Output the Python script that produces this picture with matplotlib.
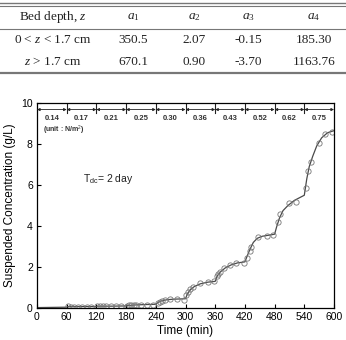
import matplotlib
matplotlib.use("Agg")
import matplotlib.pyplot as plt

plt.rcParams['mathtext.fontset'] = 'custom'
plt.rcParams['mathtext.rm'] = 'Liberation Serif'
plt.rcParams['mathtext.it'] = 'Liberation Serif:italic'
plt.rcParams['mathtext.sf'] = 'Liberation Sans'

# table values
col_heads = ["Bed depth, $z$", "$a_{\\mathrm{1}}$", "$a_{\\mathrm{2}}$", "$a_{\\mathrm{3}}$", "$a_{\\mathrm{4}}$"]
row1 = ["0 < $z$ < 1.7 cm", "350.5", "2.07", "-0.15", "185.30"]
row2 = ["$z$ > 1.7 cm", "670.1", "0.90", "-3.70", "1163.76"]

# measured points
t_obs = [62, 68, 75, 82, 90, 100, 110,
         122, 128, 133, 140, 150, 160, 170,
         182, 186, 190, 195, 200, 210, 222, 235,
         244, 248, 252, 258, 269, 282, 297,
         302, 305, 310, 316, 329, 346, 357,
         363, 366, 370, 378, 390, 403, 418,
         424, 430, 433, 447, 464, 477,
         487, 491, 509, 524, 543,
         548, 553, 570, 582, 596]
c_obs = [0.08, 0.07, 0.06, 0.06, 0.07, 0.07, 0.07,
         0.10, 0.10, 0.09, 0.08, 0.08, 0.08, 0.09,
         0.12, 0.13, 0.14, 0.15, 0.15, 0.17, 0.17, 0.17,
         0.25, 0.30, 0.36, 0.40, 0.42, 0.43, 0.40,
         0.65, 0.80, 0.95, 1.02, 1.20, 1.28, 1.30,
         1.55, 1.65, 1.77, 1.95, 2.10, 2.20, 2.20,
         2.45, 2.80, 2.96, 3.48, 3.53, 3.56,
         4.20, 4.60, 5.10, 5.15, 5.85,
         6.70, 7.10, 8.05, 8.50, 8.60]

# model curve
t_fit = [0, 30, 60, 62, 90, 120, 122, 150, 180, 183, 200, 220, 240,
         245, 252, 262, 275, 300, 304, 310, 318, 330, 345, 360,
         364, 370, 380, 392, 405, 420, 424, 430, 437, 445, 455, 468, 480,
         484, 490, 497, 507, 520, 532, 540, 545, 550, 557, 565, 575, 587, 600]
c_fit = [0.02, 0.03, 0.04, 0.07, 0.07, 0.07, 0.09, 0.09, 0.10, 0.12, 0.15, 0.17, 0.18,
         0.28, 0.35, 0.40, 0.43, 0.45, 0.70, 0.90, 1.05, 1.18, 1.26, 1.30,
         1.55, 1.75, 1.95, 2.10, 2.20, 2.25, 2.50, 2.85, 3.20, 3.40, 3.50, 3.55, 3.60,
         3.95, 4.40, 4.75, 5.00, 5.25, 5.40, 5.50, 6.30, 6.90, 7.40, 7.90, 8.30, 8.55, 8.65]

bounds = [0, 60, 120, 180, 240, 300, 360, 420, 480, 540, 600]
taus = ["0.14", "0.17", "0.21", "0.25", "0.30", "0.36", "0.43", "0.52", "0.62", "0.75"]

fig = plt.figure(figsize=(3.46, 3.40), dpi=100)

# --- table on top ---
tab = fig.add_axes([0, 1 - 78/340, 1, 78/340])
tab.set_xlim(0, 346)
tab.set_ylim(78, 0)
tab.axis("off")
lc = "#777777"
tab.plot([0, 346], [3, 3], color=lc, lw=1.0)
tab.plot([0, 346], [5.5, 5.5], color=lc, lw=0.8)
tab.plot([0, 346], [28.5, 28.5], color=lc, lw=0.8)
tab.plot([0, 346], [73, 73], color=lc, lw=1.6)
xs = [53, 133, 194, 248, 314]
tf = dict(family="Liberation Serif", fontsize=9.5, color="#222222", ha="center", va="center")
for x, s in zip(xs, col_heads):
    tab.text(x, 17, s, **tf)
for x, s in zip(xs, row1):
    tab.text(x, 40, s, **tf)
for x, s in zip(xs, row2):
    tab.text(x, 62, s, **tf)

# --- chart ---
ax = fig.add_axes([37/346, 1 - 308/340, 297/346, 205/340])
ax.plot(t_fit, c_fit, color="#4a4a4a", lw=0.9)
ax.plot(t_obs, c_obs, "o", mfc="none", mec="#777777", ms=3.8, mew=0.6)

ax.set_xlim(0, 600)
ax.set_ylim(0, 10)
ax.set_xticks(range(0, 601, 60))
ax.set_yticks([0, 2, 4, 6, 8, 10])
sf = "Liberation Sans"
ax.tick_params(direction="in", length=3, width=0.8, labelsize=7.5, pad=3)
for lab in ax.get_xticklabels() + ax.get_yticklabels():
    lab.set_family(sf)
for sp in ax.spines.values():
    sp.set_linewidth(0.9)
ax.set_xlabel("Time (min)", family=sf, fontsize=8.5, labelpad=2)
ax.set_ylabel("Suspended Concentration (g/L)", family=sf, fontsize=8.5, labelpad=4)

# shear stress steps
for b in bounds[1:-1]:
    ax.plot([b, b], [10, 9.5], color="#222222", lw=0.8)
for i in range(len(taus)):
    ax.annotate("", xy=(bounds[i], 9.68), xytext=(bounds[i + 1], 9.68),
                arrowprops=dict(arrowstyle="<|-|>", color="#222222", lw=0.6,
                                mutation_scale=4, shrinkA=0, shrinkB=0))
    ax.text((bounds[i] + bounds[i + 1]) / 2, 9.25, taus[i], ha="center", va="center",
            family=sf, fontsize=5.5, fontweight="bold", color="#333333")
ax.text(12, 8.72, "(unit : N/m$^{\\mathsf{2}}$)", family=sf, fontsize=5, fontweight="bold",
        color="#333333", va="center")
ax.text(92, 6.3, "T$_{\\mathsf{dc}}$= 2 day", family=sf, fontsize=7.5, va="center",
        color="#222222")

fig.savefig("out.png", dpi=100)
